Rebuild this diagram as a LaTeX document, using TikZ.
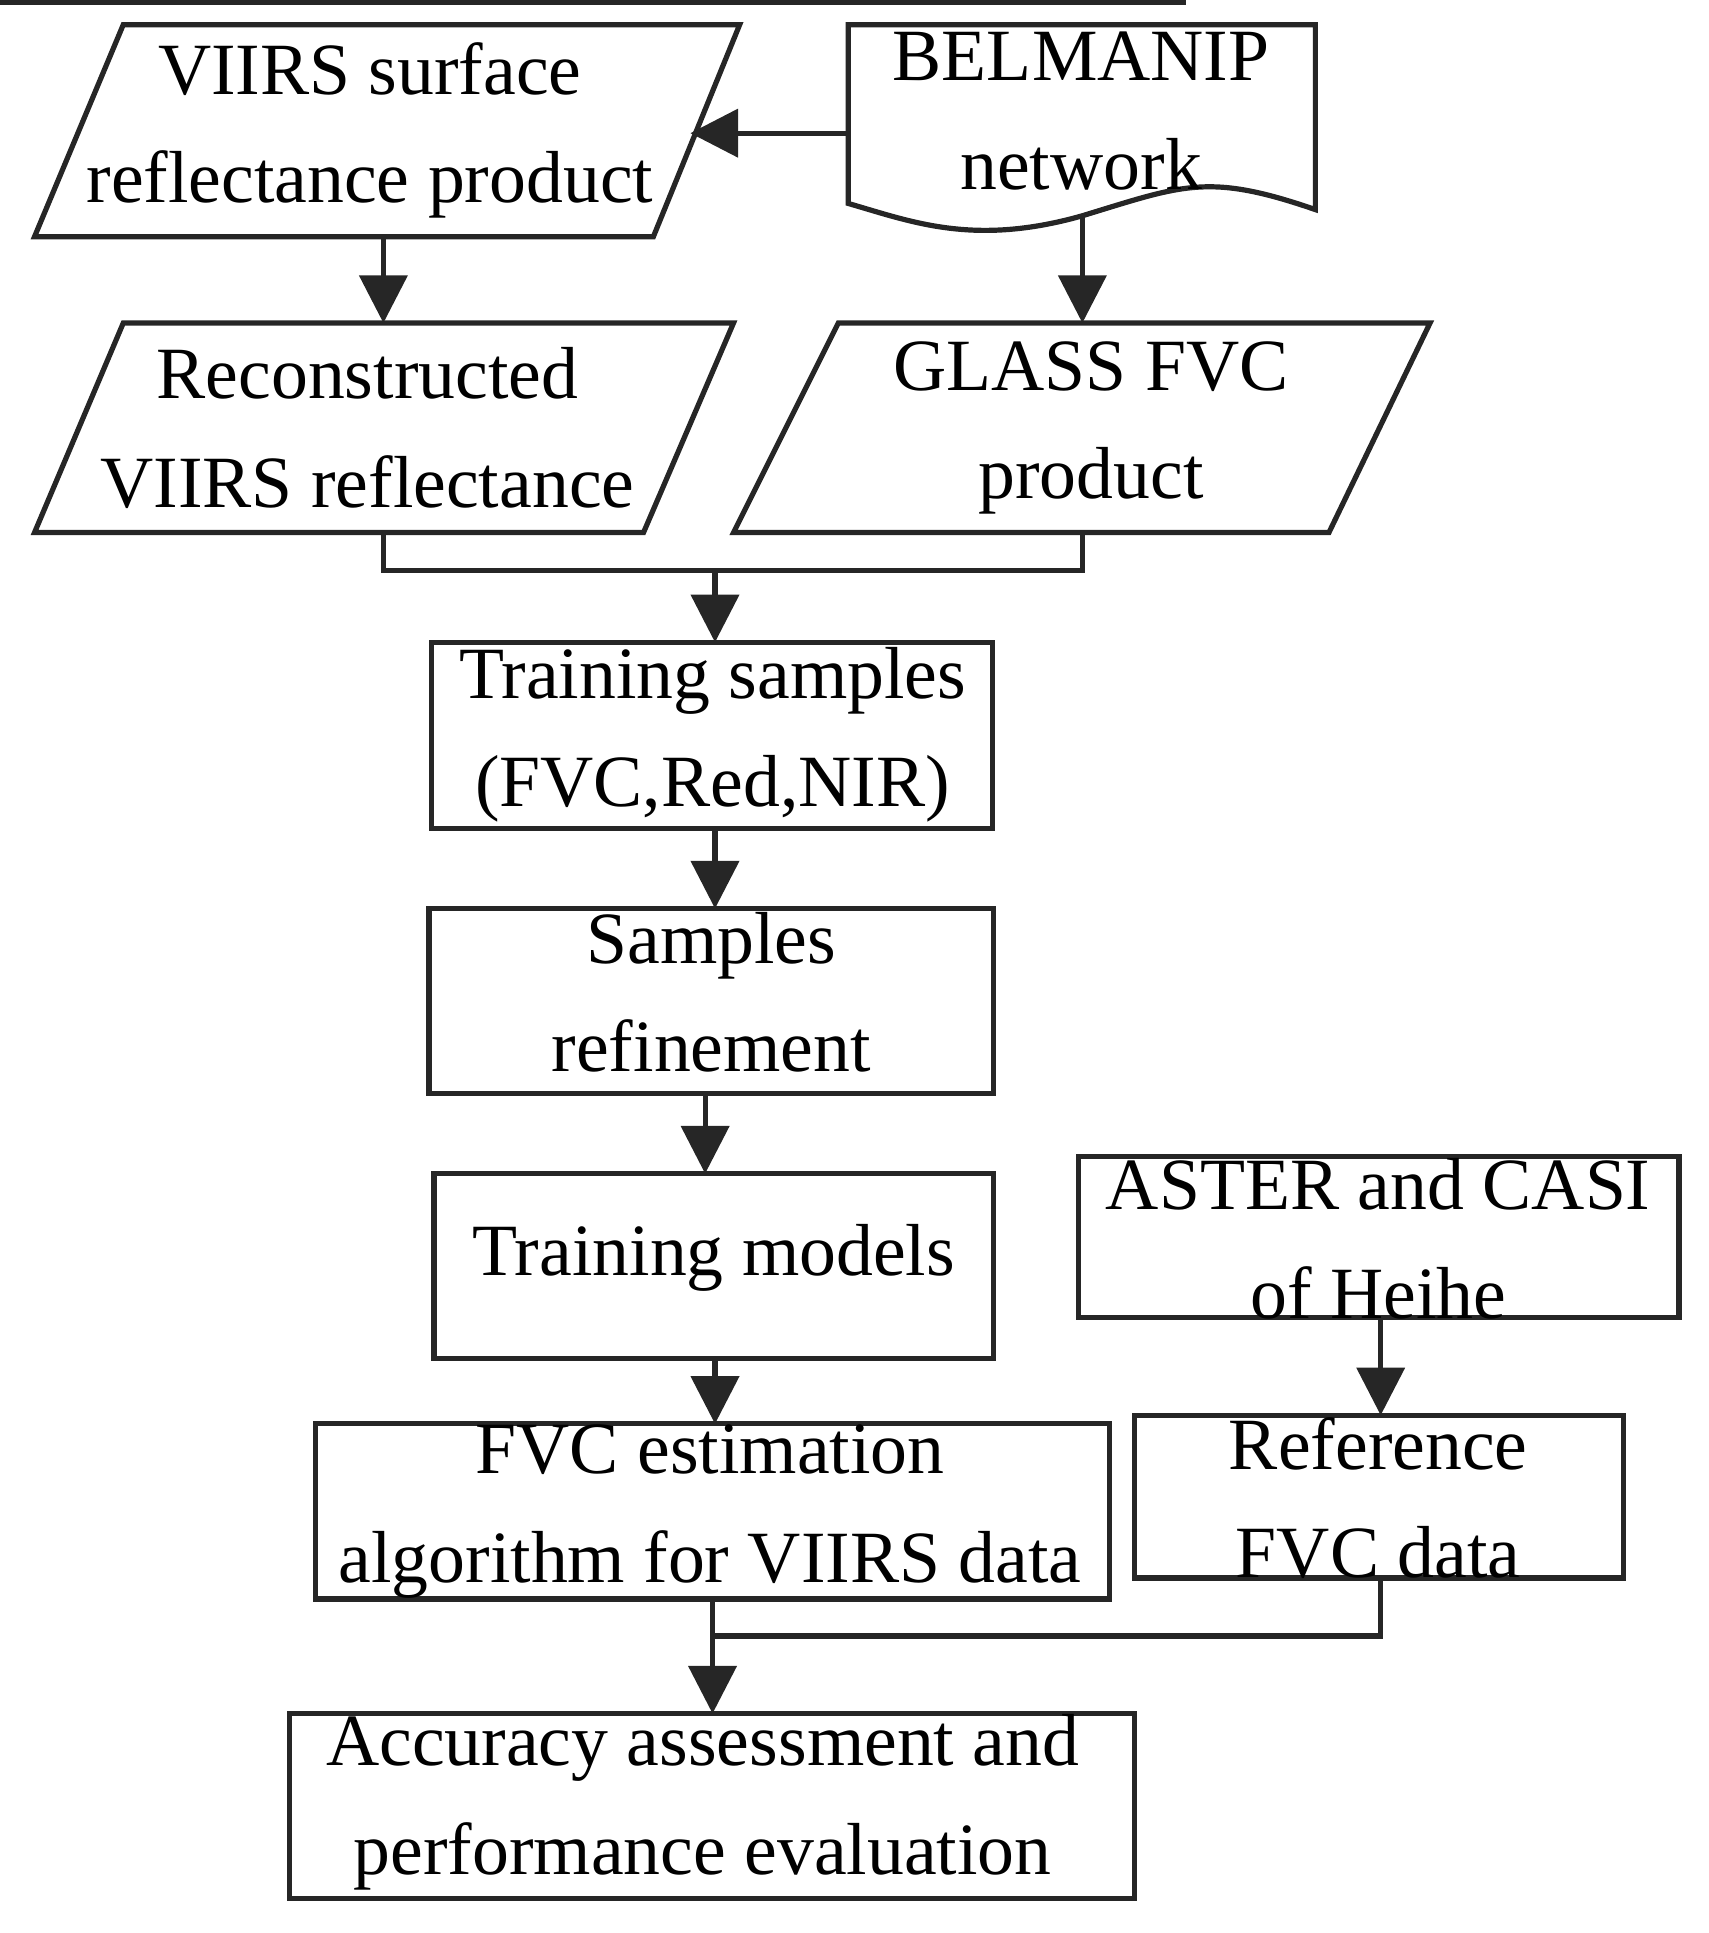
\documentclass[tikz,border=0pt]{standalone}
\usepackage{fontspec}
\setmainfont{Liberation Serif}
\usetikzlibrary{arrows.meta}
\begin{document}
\begin{tikzpicture}[x=0.01cm,y=-0.01cm,
  ln/.style={draw=black!85,line width=1.2pt},
  ar/.style={ln,-{Triangle[length=11pt,width=11pt]}},
  tx/.style={align=center,font=\fontsize{17}{25}\selectfont,inner sep=0pt}]
\useasboundingbox (0,0) rectangle (1386,1568);
% parallelograms
\draw[ln] (100,20)--(600,20)--(530,192)--(28,192)--cycle;
\node[tx] (viirs) at (300,106) {VIIRS surface\\reflectance product};
\draw[ln] (100,262)--(595,262)--(522,432)--(28,432)--cycle;
\node[tx] (recon) at (298,347) {Reconstructed\\VIIRS reflectance};
\draw[ln] (680,262)--(1160,262)--(1078,432)--(595,432)--cycle;
\node[tx] (glass) at (885,347) {GLASS FVC\\product};
% document
\draw[ln] (688,20)--(1067,20)--(1067,170) .. controls (980,140) and (960,150) .. (878,175)
  .. controls (790,200) and (740,180) .. (688,165) -- cycle;
\node[tx] (bel) at (877,90) {BELMANIP\\network};
% rectangles
\node[tx,ln,minimum width=455\pgflinewidth,text width=440] at (0,0) {};
\draw[ln] (350,521) rectangle (805,672); \node[tx] (ts) at (578,596) {Training samples\\(FVC,Red,NIR)};
\draw[ln] (348,737) rectangle (806,887); \node[tx] (sr) at (577,805) {Samples\\refinement};
\draw[ln] (352,952) rectangle (806,1102); \node[tx] (tm) at (579,1020) {Training models};
\draw[ln] (875,938) rectangle (1362,1069); \node[tx] (aster) at (1118,1005) {ASTER and CASI\\of Heihe};
\draw[ln] (256,1155) rectangle (900,1297); \node[tx] (fvc) at (576,1226) {FVC estimation\\algorithm for VIIRS data};
\draw[ln] (920,1148) rectangle (1317,1280); \node[tx] (ref) at (1118,1215) {Reference\\FVC data};
\draw[ln] (235,1390) rectangle (920,1540); \node[tx] (acc) at (570,1462) {Accuracy assessment and\\performance evaluation};
% anchors
\coordinate (belL) at (688,108); \coordinate (viR) at (560,108);
\coordinate (viB) at (311,192); \coordinate (reT) at (311,262);
\coordinate (belB) at (878,175); \coordinate (glT) at (878,262);
\coordinate (reB) at (311,432); \coordinate (glB) at (878,432);
\coordinate (j1) at (580,463); \coordinate (tsT) at (580,521);
\coordinate (tsB) at (580,672); \coordinate (srT) at (580,737);
\coordinate (srB) at (572,887); \coordinate (tmT) at (572,952);
\coordinate (tmB) at (580,1102); \coordinate (fvT) at (580,1155);
\coordinate (asB) at (1120,1069); \coordinate (rfT) at (1120,1148);
\coordinate (fvB) at (578,1297); \coordinate (acT) at (578,1390);
\coordinate (rfB) at (1120,1280); \coordinate (j2) at (578,1327);
\draw[ar] (belL)--(viR);
\draw[ar] (viB)--(reT);
\draw[ar] (belB)--(glT);
\draw[ln] (reB)|-(j1)-|(glB);
\draw[ar] (j1)--(tsT);
\draw[ar] (tsB)--(srT);
\draw[ar] (srB)--(tmT);
\draw[ar] (tmB)--(fvT);
\draw[ar] (asB)--(rfT);
\draw[ar] (fvB)--(acT);
\draw[ln] (rfB)|-(j2);
\end{tikzpicture}
\end{document}
